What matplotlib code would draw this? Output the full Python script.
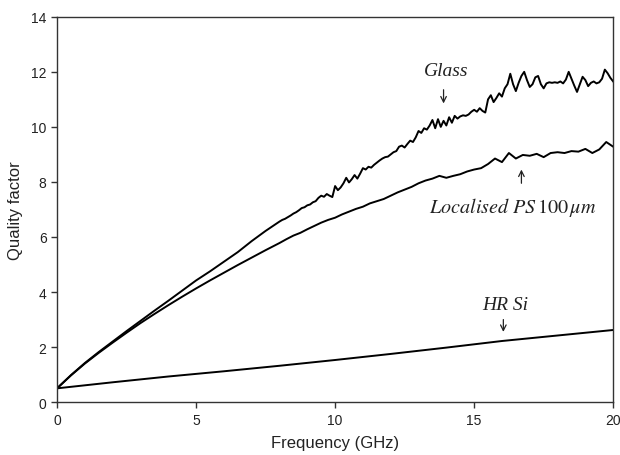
import matplotlib
matplotlib.use("Agg")
import matplotlib.pyplot as plt
import numpy as np

# ---------------- data ----------------
glass_f = [0.0, 0.5, 1.0, 1.5, 2.0, 2.5, 3.0, 3.5, 4.0, 4.5, 5.0, 5.5, 6.0, 6.5, 7.0, 7.5, 8.0,
           8.1, 8.2, 8.3, 8.4, 8.5, 8.6, 8.7, 8.8, 8.9, 9.0,
           9.1, 9.2, 9.3, 9.4, 9.5, 9.6, 9.7, 9.8, 9.9, 10.0,
           10.1, 10.2, 10.3, 10.4, 10.5, 10.6, 10.7, 10.8, 10.9, 11.0,
           11.1, 11.2, 11.3, 11.4, 11.5, 11.6, 11.7, 11.8, 11.9, 12.0,
           12.1, 12.2, 12.3, 12.4, 12.5, 12.6, 12.7, 12.8, 12.9, 13.0,
           13.1, 13.2, 13.3, 13.4, 13.5, 13.6, 13.7, 13.8, 13.9, 14.0,
           14.1, 14.2, 14.3, 14.4, 14.5, 14.6, 14.7, 14.8, 14.9, 15.0,
           15.1, 15.2, 15.3, 15.4, 15.5, 15.6, 15.7, 15.8, 15.9, 16.0,
           16.1, 16.2, 16.3, 16.4, 16.5, 16.6, 16.7, 16.8, 16.9, 17.0,
           17.1, 17.2, 17.3, 17.4, 17.5, 17.6, 17.7, 17.8, 17.9, 18.0,
           18.1, 18.2, 18.3, 18.4, 18.5, 18.6, 18.7, 18.8, 18.9, 19.0,
           19.1, 19.2, 19.3, 19.4, 19.5, 19.6, 19.7, 19.8, 19.9, 20.0]
glass_q = [0.50, 0.98, 1.42, 1.82, 2.20, 2.58, 2.95, 3.32, 3.68, 4.05, 4.42, 4.75, 5.10, 5.45, 5.85, 6.22, 6.56,
           6.62, 6.66, 6.72, 6.78, 6.85, 6.90, 6.97, 7.05, 7.08, 7.15,
           7.18, 7.26, 7.30, 7.42, 7.50, 7.46, 7.56, 7.50, 7.45, 7.85,
           7.70, 7.80, 7.95, 8.15, 7.98, 8.10, 8.25, 8.12, 8.30, 8.50,
           8.45, 8.55, 8.52, 8.62, 8.70, 8.78, 8.85, 8.90, 8.92, 9.00,
           9.08, 9.12, 9.28, 9.32, 9.25, 9.38, 9.50, 9.45, 9.62, 9.85,
           9.78, 9.95, 9.90, 10.05, 10.25, 9.95, 10.28, 10.00, 10.22, 10.05,
           10.35, 10.15, 10.40, 10.30, 10.38, 10.42, 10.40, 10.45, 10.55, 10.62,
           10.55, 10.68, 10.58, 10.52, 11.00, 11.15, 10.90, 11.05, 11.22, 11.10,
           11.40, 11.55, 11.93, 11.55, 11.30, 11.60, 11.85, 12.00, 11.70, 11.45,
           11.55, 11.80, 11.85, 11.55, 11.40, 11.58, 11.62, 11.60, 11.62, 11.60,
           11.65, 11.58, 11.72, 12.00, 11.75, 11.50, 11.27, 11.55, 11.82, 11.70,
           11.48, 11.60, 11.65, 11.58, 11.62, 11.75, 12.08, 11.95, 11.78, 11.65]

ps_f = [0.0, 0.5, 1.0, 1.5, 2.0, 2.5, 3.0, 3.5, 4.0, 4.5, 5.0, 5.5, 6.0, 6.5, 7.0, 7.5, 8.0,
        8.25, 8.5, 8.75, 9.0, 9.25, 9.5, 9.75, 10.0, 10.25, 10.5, 10.75, 11.0,
        11.25, 11.5, 11.75, 12.0, 12.25, 12.5, 12.75, 13.0, 13.25, 13.5, 13.75, 14.0,
        14.25, 14.5, 14.75, 15.0, 15.25, 15.5, 15.75, 16.0, 16.25, 16.5, 16.75, 17.0,
        17.25, 17.5, 17.75, 18.0, 18.25, 18.5, 18.75, 19.0, 19.25, 19.5, 19.75, 20.0]
ps_q = [0.50, 0.97, 1.40, 1.79, 2.16, 2.52, 2.87, 3.20, 3.52, 3.83, 4.13, 4.42, 4.70, 4.98, 5.25, 5.52, 5.78,
        5.92, 6.05, 6.15, 6.28, 6.40, 6.52, 6.62, 6.70, 6.82, 6.92, 7.02, 7.10,
        7.22, 7.30, 7.38, 7.50, 7.62, 7.72, 7.82, 7.95, 8.05, 8.12, 8.22, 8.15,
        8.22, 8.28, 8.38, 8.45, 8.50, 8.65, 8.85, 8.72, 9.05, 8.85, 8.98, 8.95,
        9.02, 8.90, 9.05, 9.08, 9.05, 9.12, 9.10, 9.20, 9.05, 9.18, 9.45, 9.28]

si_f = [0, 2, 4, 6, 8, 10, 12, 14, 16, 18, 20]
si_q = [0.50, 0.72, 0.93, 1.12, 1.32, 1.53, 1.75, 1.98, 2.22, 2.42, 2.62]

x_ticks = [0, 5, 10, 15, 20]
y_ticks = [0, 2, 4, 6, 8, 10, 12, 14]

# ---------------- plot ----------------
plt.rcParams['mathtext.fontset'] = 'stix'
fig = plt.figure(figsize=(6.2, 4.56), dpi=100)
ax = fig.add_axes([0.092, 0.116, 0.897, 0.845])

for f, q in [(glass_f, glass_q), (ps_f, ps_q), (si_f, si_q)]:
    ax.plot(f, q, color='black', lw=1.4)

ax.set_xlim(0, 20)
ax.set_ylim(0, 14)
ax.set_xticks(x_ticks)
ax.set_yticks(y_ticks)
ax.tick_params(direction='out', length=4, width=1, colors='#333333', labelsize=10,
               labelcolor='#222222', top=False, right=False)
for s in ax.spines.values():
    s.set_linewidth(1.0)
    s.set_color('#333333')

ax.set_xlabel('Frequency (GHz)', fontsize=12, family='Liberation Sans', color='#222222', labelpad=6)
ax.set_ylabel('Quality factor', fontsize=12, family='Liberation Sans', color='#222222', labelpad=6)
for lab in ax.get_xticklabels() + ax.get_yticklabels():
    lab.set_family('Liberation Sans')

serif = dict(family='Liberation Serif', style='italic', fontsize=14, color='#222222')
ax.text(14.0, 12.05, 'Glass', ha='center', va='center', **serif)
ax.annotate('', xy=(13.9, 10.75), xytext=(13.9, 11.45),
            arrowprops=dict(arrowstyle='->', lw=0.9, color='#222222'))

ax.text(16.4, 7.1, r'$\mathit{Localised\ PS}\,\mathrm{100}\,\mathit{\mu m}$',
        ha='center', va='center', fontsize=14.5, color='#222222')
ax.annotate('', xy=(16.7, 8.55), xytext=(16.7, 7.85),
            arrowprops=dict(arrowstyle='->', lw=0.9, color='#222222'))

ax.text(16.1, 3.55, 'HR Si', ha='center', va='center', **serif)
ax.annotate('', xy=(16.05, 2.45), xytext=(16.05, 3.1),
            arrowprops=dict(arrowstyle='->', lw=0.9, color='#222222'))

fig.savefig('out.png', dpi=100)
